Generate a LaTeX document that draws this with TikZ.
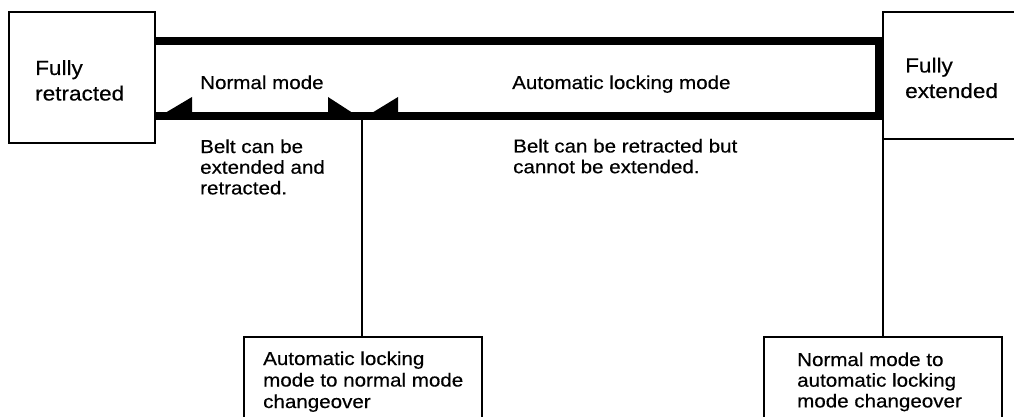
\documentclass[tikz,border=0pt]{standalone}
\usepackage{fontspec}
\setmainfont[FakeStretch=1.1,FakeBold=0.4]{Liberation Sans}
\begin{document}
\begin{tikzpicture}[x=1pt,y=-1pt,
  box/.style={draw=black,line width=1.8pt,rectangle,inner sep=0pt,outer sep=0pt},
  bigtxt/.style={anchor=base west,inner sep=0pt,align=left,font=\fontsize{20.5}{25.5}\selectfont},
  txt/.style={anchor=base west,inner sep=0pt,align=left,font=\fontsize{18.7}{20.7}\selectfont},
  band/.style={line width=8pt,line join=miter,line cap=butt},
  conn/.style={line width=1.4pt},
  head/.style={fill=black,draw=none}]
\useasboundingbox (0,0) rectangle (1014,417);
\clip (0,0) rectangle (1014,417);
% state boxes
\node[box,minimum width=146pt,minimum height=131pt] (ret) at (82,77.5) {};
\node[box,minimum width=157pt,minimum height=127pt] (ext) at (961.5,75.5) {};
\node[box,minimum width=238pt,minimum height=103pt] (chg1) at (363,388.5) {};
\node[box,minimum width=238pt,minimum height=103pt] (chg2) at (883,388.5) {};
% labels in boxes (base anchor = last line baseline)
\node[bigtxt] (retl) at (35,100.5) {Fully\\retracted};
\node[bigtxt] (extl) at (905,98) {Fully\\extended};
\node[txt,font=\fontsize{18.7}{21.5}\selectfont] (c1l) at (263,408) {Automatic locking\\mode to normal mode\\changeover};
\node[txt] (c2l) at (797,407.4) {Normal mode to\\automatic locking\\mode changeover};
% band
\coordinate (tl) at (ret.east |- 0,41);
\coordinate (tr) at (879,41);
\coordinate (br) at (879,116);
\coordinate (bl) at (ret.east |- 0,116);
\draw[band] (tl) -- (tr) -- (br) -- (bl);
% arrow heads
\coordinate (cp1) at (362,119);
\fill[head] (ret.east |- 0,119) -- (192,97) -- (192,117) -- cycle;
\fill[head] (328,97) -- (cp1) -- (328,117) -- cycle;
\fill[head] (cp1) -- (398,97) -- (398,117) -- cycle;
% mode labels
\node[txt] (nm) at (200,89) {Normal mode};
\node[txt] (alm) at (512,89) {Automatic locking mode};
\node[txt] (d1) at (200,194.4) {Belt can be\\extended and\\retracted.};
\node[txt] (d2) at (513,173.2) {Belt can be retracted but\\cannot be extended.};
% connectors
\draw[conn] (cp1) -- (cp1 |- chg1.north);
\draw[conn] (chg2.north) -- (chg2.north |- ext.south);
\end{tikzpicture}
\end{document}
